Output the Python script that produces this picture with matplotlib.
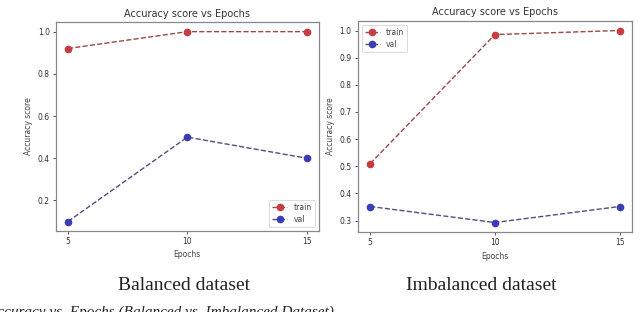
import matplotlib
matplotlib.use("Agg")
import matplotlib.pyplot as plt

epochs = [5, 10, 15]
bal_train = [0.92, 1.0, 1.0]
bal_val = [0.10, 0.50, 0.40]
imb_train = [0.51, 0.985, 1.0]
imb_val = [0.352, 0.293, 0.352]
bal_yticks = [0.2, 0.4, 0.6, 0.8, 1.0]
imb_yticks = [0.3, 0.4, 0.5, 0.6, 0.7, 0.8, 0.9, 1.0]

fig = plt.figure(figsize=(6.4, 3.12), dpi=100)
ax1 = fig.add_axes([0.0875, 0.2596, 0.4105, 0.6694])
ax2 = fig.add_axes([0.559, 0.256, 0.4285, 0.677])

red_line, red_mk = '#9a4848', '#c83c40'
blue_line, blue_mk = '#50507e', '#3c3cb4'

def draw(ax, tr, va, yt, loc):
    ax.plot(epochs, tr, linestyle='--', color=red_line, lw=1.0, marker='o',
            markersize=4.5, markerfacecolor=red_mk, markeredgecolor=red_mk, label='train')
    ax.plot(epochs, va, linestyle='--', color=blue_line, lw=1.0, marker='o',
            markersize=4.5, markerfacecolor=blue_mk, markeredgecolor=blue_mk, label='val')
    ax.set_xticks(epochs)
    ax.set_yticks(yt)
    ax.set_yticklabels([f"{v:.1f}" for v in yt])
    ax.tick_params(labelsize=5.5, length=2.5, width=0.6, colors='#333333', pad=2)
    for s in ax.spines.values():
        s.set_color('#888888')
        s.set_linewidth(0.9)
    ax.set_title('Accuracy score vs Epochs', fontsize=7, color='#333333', pad=4)
    ax.set_xlabel('Epochs', fontsize=5.5, color='#444444', labelpad=3)
    ax.set_ylabel('Accuracy score', fontsize=5.5, color='#444444', labelpad=3)
    leg = ax.legend(loc=loc, fontsize=5.5, handlelength=2.0, borderpad=0.4,
                    labelspacing=0.4, framealpha=1)
    leg.get_frame().set_linewidth(0.5)
    for t in leg.get_texts():
        t.set_color('#444444')

draw(ax1, bal_train, bal_val, bal_yticks, 'lower right')
draw(ax2, imb_train, imb_val, imb_yticks, 'upper left')

fig.text(0.2875, 0.085, 'Balanced dataset', ha='center', va='center',
         fontsize=14, family='Liberation Serif', color='#222222')
fig.text(0.752, 0.085, 'Imbalanced dataset', ha='center', va='center',
         fontsize=14, family='Liberation Serif', color='#222222')
fig.text(335 / 640, 1 - 306 / 312, 'Accuracy vs. Epochs (Balanced vs. Imbalanced Dataset)',
         ha='right', va='top', fontsize=11, style='italic',
         family='Liberation Serif', color='#222222')

fig.savefig('out.png', dpi=100)
